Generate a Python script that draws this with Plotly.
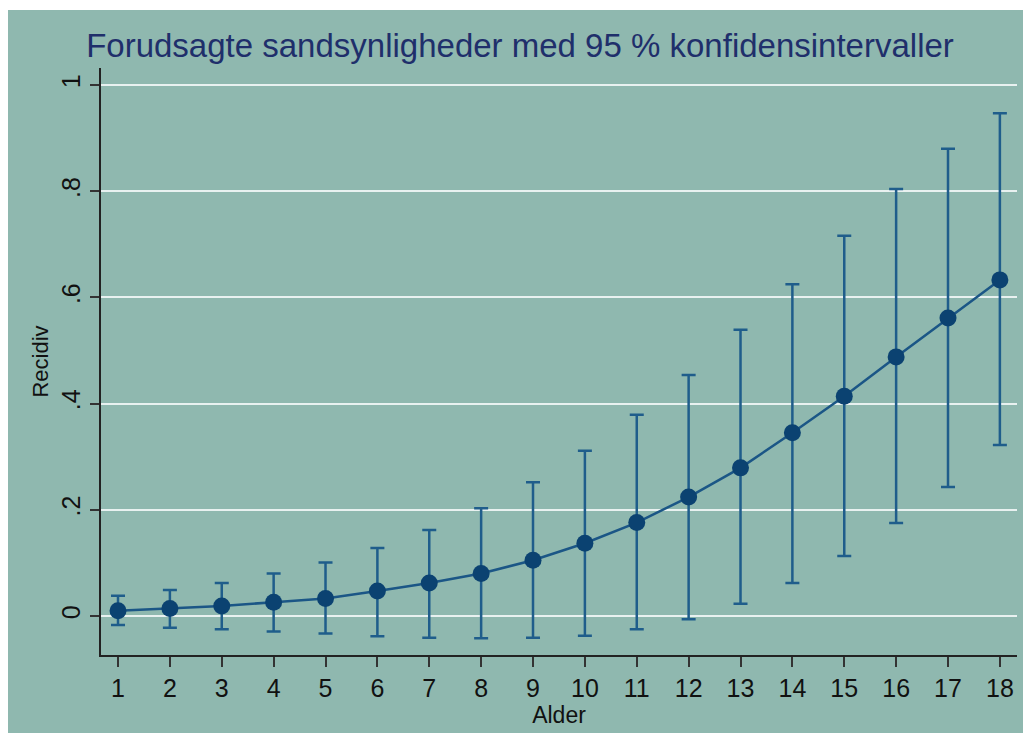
import plotly.graph_objects as go

alder = list(range(1, 19))
recidiv = [0.010, 0.014, 0.019, 0.026, 0.033, 0.047, 0.062, 0.080, 0.105, 0.137,
           0.176, 0.224, 0.279, 0.345, 0.414, 0.488, 0.561, 0.633]
ci_upper = [0.038, 0.049, 0.062, 0.080, 0.101, 0.128, 0.162, 0.203, 0.252, 0.311,
            0.379, 0.454, 0.539, 0.625, 0.716, 0.804, 0.880, 0.947]
ci_lower = [-0.017, -0.022, -0.025, -0.029, -0.033, -0.038, -0.041, -0.042, -0.041, -0.037,
            -0.025, -0.006, 0.023, 0.062, 0.113, 0.175, 0.243, 0.322]
ytick_vals = [0, 0.2, 0.4, 0.6, 0.8, 1]
ytick_text = ["0", ".2", ".4", ".6", ".8", "1"]

W, H = 1023, 733
L, R, T, B = 101, 6, 68, 78
pw, ph = W - L - R, H - T - B

bg = "#8fb8af"
font = "Liberation Sans, Arial, Helvetica, sans-serif"

fig = go.Figure()
# error bars
fig.add_trace(go.Scatter(
    x=alder, y=recidiv, mode="markers",
    marker=dict(size=0.1, color="rgba(0,0,0,0)"),
    error_y=dict(type="data", symmetric=False,
                 array=[u - m for u, m in zip(ci_upper, recidiv)],
                 arrayminus=[m - lo for m, lo in zip(recidiv, ci_lower)],
                 color="#1f5d8b", thickness=2.5, width=7),
    showlegend=False, hoverinfo="skip"))
# line + markers
fig.add_trace(go.Scatter(
    x=alder, y=recidiv, mode="lines+markers",
    line=dict(color="#1b5686", width=2.5),
    marker=dict(size=17, color="#0b4271"),
    showlegend=False))

fig.update_layout(
    width=W, height=H,
    margin=dict(l=L, r=R, t=T, b=B),
    paper_bgcolor=bg, plot_bgcolor=bg,
    font=dict(family=font, color="#111111", size=22),
    title=dict(text="Forudsagte sandsynligheder med 95 % konfidensintervaller",
               x=520 / W, xanchor="center", xref="container",
               y=1 - 45 / H, yanchor="middle", yref="container",
               font=dict(family=font, size=33, color="#1f2f6b")),
    xaxis=dict(range=[0.672, 18.33], tickvals=alder, ticks="outside", ticklen=10,
               tickwidth=1.5, tickcolor="#333333", showline=True, linecolor="#222222",
               linewidth=1.5, showgrid=False, zeroline=False,
               tickfont=dict(size=25), title=dict(text="Alder", font=dict(size=23), standoff=4)),
    yaxis=dict(range=[-0.0734, 1.032], tickvals=ytick_vals, ticktext=ytick_text,
               tickangle=-90, ticks="outside", ticklen=9, tickwidth=1.5,
               tickcolor="#333333", showline=True, linecolor="#222222", linewidth=1.5,
               showgrid=True, gridcolor="#e8f1f0", gridwidth=2, zeroline=False,
               tickfont=dict(size=25), title=dict(text="Recidiv", font=dict(size=22), standoff=3)),
    shapes=[
        dict(type="rect", xref="paper", yref="paper", layer="above",
             x0=-L / pw, x1=(8 - L) / pw, y0=-B / ph, y1=1 + T / ph,
             fillcolor="white", line=dict(width=0)),
        dict(type="rect", xref="paper", yref="paper", layer="above",
             x0=-L / pw, x1=1 + R / pw, y0=1 + (T - 10) / ph, y1=1 + T / ph,
             fillcolor="white", line=dict(width=0)),
    ],
)

fig.write_html("out.html", config={"displayModeBar": False})
with open("out.html", "r", encoding="utf-8") as f:
    html = f.read()
html = html.replace("<head>", "<head><style>html,body{margin:0;padding:0;overflow:hidden;}</style>", 1)
with open("out.html", "w", encoding="utf-8") as f:
    f.write(html)
